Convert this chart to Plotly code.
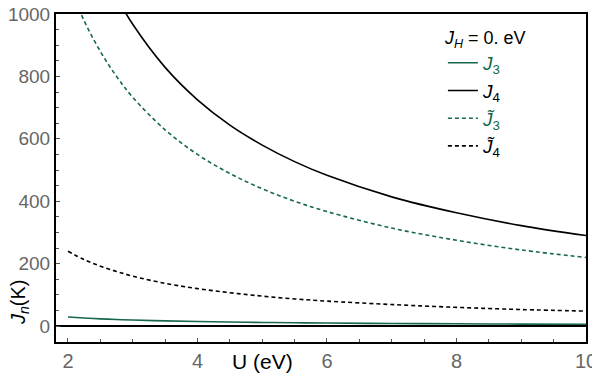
import plotly.graph_objects as go

# U (eV) sample points and exchange values (K)
u_vals = [2, 2.25, 2.5, 2.75, 3, 3.5, 4, 4.5, 5, 5.5, 6, 7, 8, 9, 10]
j3 = [29, 25.8, 23.2, 21.1, 19.3, 16.6, 14.5, 12.9, 11.6, 10.5, 9.7, 8.3, 7.3, 6.4, 5.8]
j4 = [1450, 1289, 1160, 1055, 967, 829, 725, 644, 580, 527, 483, 414, 363, 322, 290]
j3_tilde = [1100, 978, 880, 800, 733, 629, 550, 489, 440, 400, 367, 314, 275, 244, 220]
j4_tilde = [240, 213, 192, 175, 160, 137, 120, 107, 96, 87, 80, 69, 60, 53, 48]

green = "#17684a"
black = "#000000"
TILDE = "\u0303"

series = [
    (j3, "<span style='color:%s'><i>J</i><sub>3</sub></span>" % green, green, "solid"),
    (j4, "<i>J</i><sub>4</sub>", black, "solid"),
    (j3_tilde, "<span style='color:%s'><i>J%s</i><sub>3</sub></span>" % (green, TILDE), green, "4px,3px"),
    (j4_tilde, "<i>J%s</i><sub>4</sub>" % TILDE, black, "4px,3px"),
]

fig = go.Figure()
for ys, name, color, dash in series:
    fig.add_trace(go.Scatter(
        x=u_vals, y=ys, mode="lines", name=name,
        line=dict(color=color, width=1.6, dash=dash, shape="spline"),
    ))

# the page body adds an 8px offset, so margins are shifted to compensate
fig.update_layout(
    width=600, height=373,
    margin=dict(l=48, r=22, t=6, b=39),
    paper_bgcolor="white", plot_bgcolor="white",
    font=dict(family="Liberation Sans, Arial, sans-serif", color="black"),
    showlegend=True,
    legend=dict(
        x=0.73, y=0.98, xanchor="left", yanchor="top",
        bgcolor="rgba(0,0,0,0)",
        title=dict(text="<i>J<sub>H</sub></i> = 0. eV", font=dict(size=18)),
        font=dict(size=19, color="black"),
        itemwidth=30,
    ),
)

fig.update_xaxes(
    range=[1.815, 10], tickvals=[2, 4, 6, 8, 10], automargin=False,
    ticklabeloverflow="allow",
    ticks="inside", ticklen=4, tickcolor="#555", tickwidth=1,
    minor=dict(dtick=0.5, ticks="inside", ticklen=3, tickcolor="#555"),
    showgrid=False, zeroline=False,
    showline=True, linecolor="black", linewidth=2, mirror=True,
    tickfont=dict(size=20, color="#666"),
)
fig.update_yaxes(
    range=[-51, 1000], tickvals=[0, 200, 400, 600, 800, 1000], automargin=False,
    ticklabeloverflow="allow",
    ticks="inside", ticklen=4, tickcolor="#555", tickwidth=1,
    minor=dict(dtick=50, ticks="inside", ticklen=3, tickcolor="#555"),
    showgrid=False, zeroline=True, zerolinecolor="black", zerolinewidth=1.5,
    showline=True, linecolor="black", linewidth=2, mirror=True,
    tickfont=dict(size=19, color="#666"),
)

fig.add_annotation(
    text="U (eV)", xref="paper", yref="paper", x=0.389, y=-0.06,
    xanchor="center", yanchor="middle", showarrow=False,
    font=dict(size=21, color="black"),
)
fig.add_annotation(
    text="<i>J<sub>n</sub></i>(K)", xref="paper", yref="paper", x=-0.068, y=0.122,
    xanchor="center", yanchor="middle", showarrow=False, textangle=-90,
    font=dict(size=20, color="black"),
)

fig.write_html("out.html")
